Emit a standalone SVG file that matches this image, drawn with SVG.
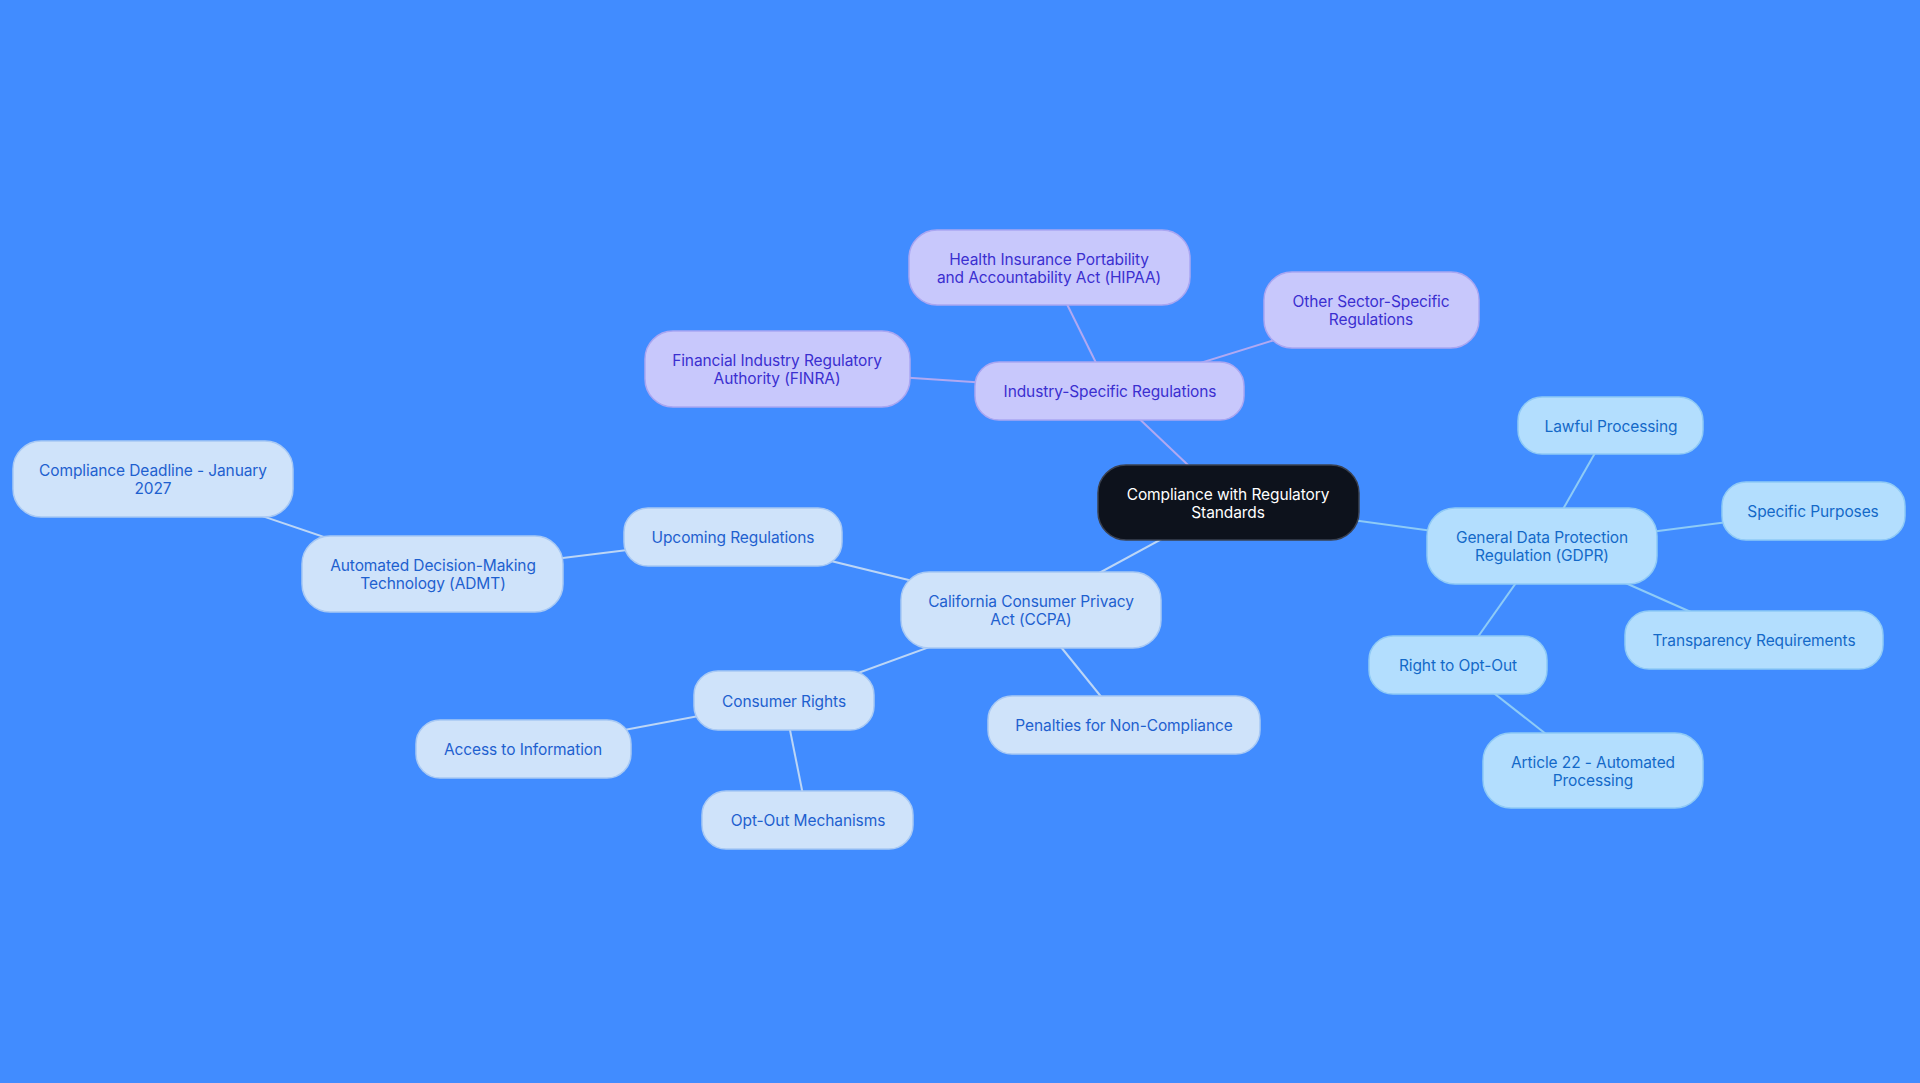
<svg xmlns="http://www.w3.org/2000/svg" width="1920" height="1083" viewBox="0 0 1920 1083">
<style>
text{font-family:Inter,"Noto Sans","Liberation Sans",sans-serif;font-size:15.5px;text-anchor:middle;letter-spacing:-0.1px}
.root rect{fill:#0d121c;stroke:#3a4150;stroke-width:1.5}
.root text{fill:#ffffff}
.ind rect{fill:#c8c8fc;stroke:#a9a6f2;stroke-width:1.5}
.ind text{fill:#3b2fd0}
.gd rect{fill:#b3defe;stroke:#8fcaf6;stroke-width:1.5}
.gd text{fill:#1369c8}
.cc rect{fill:#cfe3fa;stroke:#a8c9f4;stroke-width:1.5}
.cc text{fill:#1e60cf}
.e{stroke-width:2;fill:none}
.ep{stroke:#b0a9f2}
.eg{stroke:#8ecbf7}
.ec{stroke:#bcd6f6}
</style>
<rect width="1920" height="1083" fill="#418cff"/>
<g id="connectors">
<line class="e ep" x1="1228" y1="503" x2="1110" y2="391"/>
<line class="e ep" x1="1110" y1="391" x2="1049" y2="268"/>
<line class="e ep" x1="1110" y1="391" x2="1371" y2="310"/>
<line class="e ep" x1="1110" y1="391" x2="777" y2="369"/>
<line class="e eg" x1="1228" y1="503" x2="1542" y2="546"/>
<line class="e eg" x1="1542" y1="546" x2="1611" y2="425"/>
<line class="e eg" x1="1542" y1="546" x2="1813" y2="511"/>
<line class="e eg" x1="1542" y1="546" x2="1754" y2="640"/>
<line class="e eg" x1="1542" y1="546" x2="1458" y2="665"/>
<line class="e eg" x1="1458" y1="665" x2="1593" y2="771"/>
<line class="e ec" x1="1228" y1="503" x2="1031" y2="610"/>
<line class="e ec" x1="1031" y1="610" x2="733" y2="537"/>
<line class="e ec" x1="733" y1="537" x2="433" y2="574"/>
<line class="e ec" x1="433" y1="574" x2="153" y2="479"/>
<line class="e ec" x1="1031" y1="610" x2="784" y2="700"/>
<line class="e ec" x1="1031" y1="610" x2="1124" y2="725"/>
<line class="e ec" x1="784" y1="700" x2="523" y2="749"/>
<line class="e ec" x1="784" y1="700" x2="808" y2="820"/>
</g>
<g id="root" class="root"><rect x="1098" y="465" width="261" height="75" rx="28"/><text x="1228" y="499.5">Compliance with Regulatory</text><text x="1228" y="517.5">Standards</text></g>
<g id="industry" class="ind"><rect x="975" y="362" width="269" height="58" rx="24"/><text x="1110" y="396.5">Industry-Specific Regulations</text></g>
<g id="hipaa" class="ind"><rect x="909" y="230" width="281" height="75" rx="28"/><text x="1049" y="264.5">Health Insurance Portability</text><text x="1049" y="282.5">and Accountability Act (HIPAA)</text></g>
<g id="other" class="ind"><rect x="1264" y="272" width="215" height="76" rx="28"/><text x="1371" y="306.5">Other Sector-Specific</text><text x="1371" y="324.5">Regulations</text></g>
<g id="finra" class="ind"><rect x="645" y="331" width="265" height="76" rx="28"/><text x="777" y="365.5">Financial Industry Regulatory</text><text x="777" y="383.5">Authority (FINRA)</text></g>
<g id="gdpr" class="gd"><rect x="1427" y="508" width="230" height="76" rx="28"/><text x="1542" y="542.5">General Data Protection</text><text x="1542" y="560.5">Regulation (GDPR)</text></g>
<g id="lawful" class="gd"><rect x="1518" y="397" width="185" height="57" rx="24"/><text x="1611" y="431.5">Lawful Processing</text></g>
<g id="specific" class="gd"><rect x="1722" y="482" width="183" height="58" rx="24"/><text x="1813" y="516.5">Specific Purposes</text></g>
<g id="transparency" class="gd"><rect x="1625" y="611" width="258" height="58" rx="24"/><text x="1754" y="645.5">Transparency Requirements</text></g>
<g id="optout" class="gd"><rect x="1369" y="636" width="178" height="58" rx="24"/><text x="1458" y="670.5">Right to Opt-Out</text></g>
<g id="article22" class="gd"><rect x="1483" y="733" width="220" height="75" rx="28"/><text x="1593" y="767.5">Article 22 - Automated</text><text x="1593" y="785.5">Processing</text></g>
<g id="ccpa" class="cc"><rect x="901" y="572" width="260" height="76" rx="28"/><text x="1031" y="606.5">California Consumer Privacy</text><text x="1031" y="624.5">Act (CCPA)</text></g>
<g id="upcoming" class="cc"><rect x="624" y="508" width="218" height="58" rx="24"/><text x="733" y="542.5">Upcoming Regulations</text></g>
<g id="admt" class="cc"><rect x="302" y="536" width="261" height="76" rx="28"/><text x="433" y="570.5">Automated Decision-Making</text><text x="433" y="588.5">Technology (ADMT)</text></g>
<g id="deadline" class="cc"><rect x="13" y="441" width="280" height="76" rx="28"/><text x="153" y="475.5">Compliance Deadline - January</text><text x="153" y="493.5">2027</text></g>
<g id="consumer" class="cc"><rect x="694" y="671" width="180" height="59" rx="24"/><text x="784" y="706.5">Consumer Rights</text></g>
<g id="access" class="cc"><rect x="416" y="720" width="215" height="58" rx="24"/><text x="523" y="754.5">Access to Information</text></g>
<g id="optoutmech" class="cc"><rect x="702" y="791" width="211" height="58" rx="24"/><text x="808" y="825.5">Opt-Out Mechanisms</text></g>
<g id="penalties" class="cc"><rect x="988" y="696" width="272" height="58" rx="24"/><text x="1124" y="730.5">Penalties for Non-Compliance</text></g>
</svg>
